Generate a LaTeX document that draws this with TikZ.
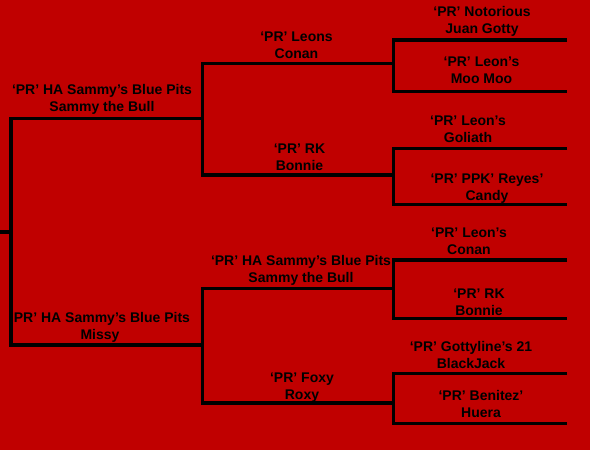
\documentclass[tikz,border=0pt]{standalone}
\usepackage{fontspec}
\setmainfont{Liberation Sans}
\definecolor{bgred}{RGB}{192,0,0}
\begin{document}
\begin{tikzpicture}[x=1pt,y=-1pt,
  bracket/.style={line width=3.5pt,black,line join=miter},
  dogname/.style={anchor=base,align=center,inner sep=0pt,font=\bfseries\fontsize{14}{17}\selectfont,text=black}]
\fill[bgred] (0,0) rectangle (590,450);
\useasboundingbox (0,0) rectangle (590,450);
% coordinates
\coordinate (r0) at (0,232);
\coordinate (r1) at (11,232);
\coordinate (a1) at (11,118.5);   \coordinate (a2) at (202.5,118.5);
\coordinate (b1) at (11,345);     \coordinate (b2) at (202.5,345);
\coordinate (c1) at (202.5,63.5); \coordinate (c2) at (393.5,63.5);
\coordinate (d1) at (202.5,175);  \coordinate (d2) at (393.5,175);
\coordinate (e1) at (202.5,288.5);\coordinate (e2) at (393.5,288.5);
\coordinate (f1) at (202.5,403);  \coordinate (f2) at (393.5,403);
\coordinate (g1) at (393.5,40);   \coordinate (g2) at (567,40);
\coordinate (h1) at (393.5,91.5); \coordinate (h2) at (567,91.5);
\coordinate (i1) at (393.5,148.5);\coordinate (i2) at (567,148.5);
\coordinate (j1) at (393.5,204.5);\coordinate (j2) at (567,204.5);
\coordinate (k1) at (393.5,260);  \coordinate (k2) at (567,260);
\coordinate (l1) at (393.5,318.5);\coordinate (l2) at (567,318.5);
\coordinate (m1) at (393.5,373.5);\coordinate (m2) at (567,373.5);
\coordinate (n1) at (393.5,423.5);\coordinate (n2) at (567,423.5);
% brackets
\draw[bracket] (r0) -- (r1);
\draw[bracket] (a2) -- (a1) -- (b1) -- (b2);
\draw[bracket] (c2) -- (c1) -- (d1) -- (d2);
\draw[bracket] (e2) -- (e1) -- (f1) -- (f2);
\draw[bracket] (g2) -- (g1) -- (h1) -- (h2);
\draw[bracket] (i2) -- (i1) -- (j1) -- (j2);
\draw[bracket] (k2) -- (k1) -- (l1) -- (l2);
\draw[bracket] (m2) -- (m1) -- (n1) -- (n2);
% names (anchor = baseline of the second line)
\node[dogname] (sire) at (102,111) {‘PR’ HA Sammy’s Blue Pits\\Sammy the Bull};
\node[dogname] (dam) at (100,339) {‘PR’ HA Sammy’s Blue Pits\\Missy};
\node[dogname] (ss) at (296.5,58) {‘PR’ Leons\\Conan};
\node[dogname] (sd) at (299.5,170) {‘PR’ RK\\Bonnie};
\node[dogname] (ds) at (301,282) {‘PR’ HA Sammy’s Blue Pits\\Sammy the Bull};
\node[dogname] (dd) at (302,399) {‘PR’ Foxy\\Roxy};
\node[dogname] (sss) at (482,33) {‘PR’ Notorious\\Juan Gotty};
\node[dogname] (ssd) at (481.5,83) {‘PR’ Leon’s\\Moo Moo};
\node[dogname] (sds) at (468,142) {‘PR’ Leon’s\\Goliath};
\node[dogname] (sdd) at (487,200) {‘PR’ PPK’ Reyes’\\Candy};
\node[dogname] (dss) at (469,254) {‘PR’ Leon’s\\Conan};
\node[dogname] (dsd) at (479,315) {‘PR’ RK\\Bonnie};
\node[dogname] (dds) at (471,368) {‘PR’ Gottyline’s 21\\BlackJack};
\node[dogname] (ddd) at (481,417) {‘PR’ Benitez’\\Huera};
\end{tikzpicture}
\end{document}
